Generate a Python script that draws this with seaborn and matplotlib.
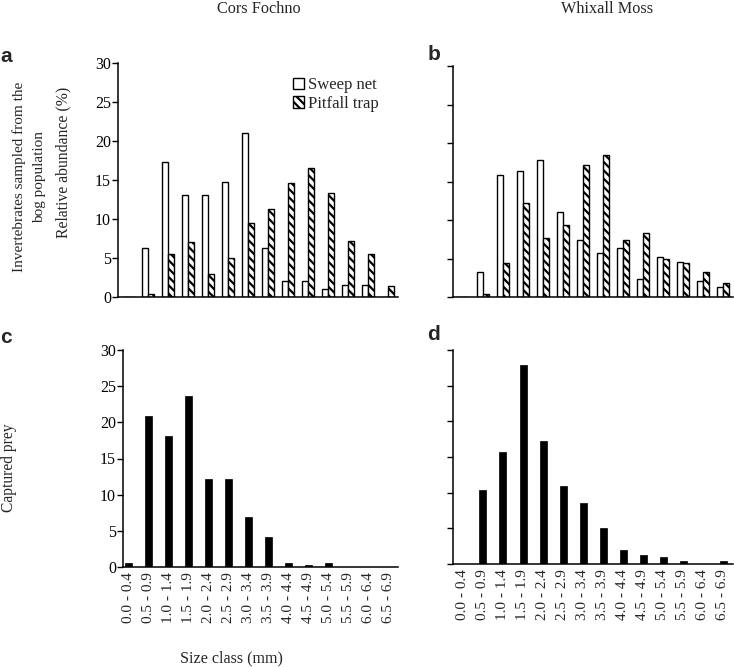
import numpy as np
import pandas as pd
import seaborn as sns
import matplotlib.pyplot as plt
from matplotlib.patches import Patch

# size classes (mm)
size_classes = ["0.0 - 0.4", "0.5 - 0.9", "1.0 - 1.4", "1.5 - 1.9", "2.0 - 2.4",
                "2.5 - 2.9", "3.0 - 3.4", "3.5 - 3.9", "4.0 - 4.4", "4.5 - 4.9",
                "5.0 - 5.4", "5.5 - 5.9", "6.0 - 6.4", "6.5 - 6.9"]
methods = ["Sweep net", "Pitfall trap"]

# Cors Fochno - bog population (%)
cf_sweep = [0, 6.3, 17.3, 13.1, 13.1, 14.7, 21.0, 6.3, 2.1, 2.1, 1.0, 1.6, 1.6, 0]
cf_pitfall = [0, 0.4, 5.5, 7.1, 3.0, 5.0, 9.5, 11.3, 14.6, 16.5, 13.3, 7.2, 5.5, 1.4]
# Whixall Moss - bog population (%)
wm_sweep = [0, 3.2, 15.9, 16.4, 17.8, 11.0, 7.4, 5.7, 6.3, 2.4, 5.2, 4.6, 2.1, 1.3]
wm_pitfall = [0, 0.35, 4.4, 12.2, 7.6, 9.4, 17.1, 18.4, 7.4, 8.3, 5.0, 4.4, 3.2, 1.8]
# captured prey (%)
cf_prey = [0.55, 20.9, 18.1, 23.6, 12.2, 12.2, 6.9, 4.2, 0.55, 0.3, 0.55, 0, 0, 0]
wm_prey = [0, 10.4, 15.7, 27.9, 17.3, 11.0, 8.6, 5.0, 2.0, 1.3, 1.0, 0.4, 0, 0.4]

sns.set_style("ticks")
plt.rcParams["font.family"] = ["Liberation Serif", "DejaVu Serif"]
plt.rcParams["hatch.linewidth"] = 1.6
plt.rcParams["axes.linewidth"] = 1.1

W, H = 734, 667
fig = plt.figure(figsize=(W / 100, H / 100), dpi=100)


def px_axes(left, right, top, bottom):
    return fig.add_axes([left / W, 1 - bottom / H, (right - left) / W, (bottom - top) / H])


def style(ax, labels, xlim):
    sns.despine(ax=ax)
    ax.set_ylim(0, 30)
    ax.set_yticks(range(0, 31, 5))
    ax.set_xlim(*xlim)
    ax.set_xlabel("")
    ax.set_ylabel("")
    ax.tick_params(axis="y", length=4, width=1.0, labelsize=11.5, pad=1, colors="black")
    ax.tick_params(axis="x", length=0, labelsize=11, pad=4)
    for s in ax.spines.values():
        s.set_color("black")
    if not labels:
        ax.set_yticklabels([])
    ax.set_facecolor("white")


def bog_panel(ax, sweep, pitfall, labels):
    df = pd.DataFrame({
        "size": size_classes * 2,
        "value": sweep + pitfall,
        "method": [methods[0]] * len(size_classes) + [methods[1]] * len(size_classes),
    })
    sns.barplot(data=df, x="size", y="value", hue="method", order=size_classes,
                hue_order=methods, palette=["white", "white"], width=0.62,
                edgecolor="black", linewidth=1.0, legend=False, ax=ax)
    for bar in ax.containers[1]:
        bar.set_hatch("\\\\\\\\")
    style(ax, labels, (-0.5, 13.5))
    ax.set_xticklabels([])


def prey_panel(ax, values, labels, xlim):
    sns.barplot(x=size_classes, y=values, color="black", width=0.35,
                edgecolor="black", linewidth=0.5, ax=ax)
    style(ax, labels, xlim)
    ax.set_xticks(range(len(size_classes)))
    ax.set_xticklabels(size_classes, rotation=90)


ax_a = px_axes(118, 398, 63, 297)
bog_panel(ax_a, cf_sweep, cf_pitfall, True)
ax_b = px_axes(453, 733, 66, 297)
bog_panel(ax_b, wm_sweep, wm_pitfall, False)
ax_c = px_axes(123, 398, 350, 567)
prey_panel(ax_c, cf_prey, True, (-0.25, 13.5))
ax_d = px_axes(453, 733, 350, 564)
prey_panel(ax_d, wm_prey, False, (-0.5, 13.5))

# legend
handles = [Patch(facecolor="white", edgecolor="black", linewidth=1.0, label=methods[0]),
           Patch(facecolor="white", edgecolor="black", linewidth=1.0, hatch="\\\\\\\\", label=methods[1])]
ax_a.legend(handles=handles, loc="upper left", bbox_to_anchor=(285 / W, 1 - 69 / H),
            bbox_transform=fig.transFigure, frameon=False, fontsize=12,
            handlelength=0.65, handleheight=0.65, handletextpad=0.2, labelspacing=0.15,
            borderpad=0)

# titles and labels
fig.text(259 / W, 1 - 9 / H, "Cors Fochno", ha="center", va="center", fontsize=11.7)
fig.text(607 / W, 1 - 9 / H, "Whixall Moss", ha="center", va="center", fontsize=11.7)
fig.text(29 / W, 1 - 177 / H, "Invertebrates sampled from the\nbog population",
         rotation=90, ha="center", va="center", multialignment="center",
         fontsize=11, linespacing=1.75)
fig.text(63 / W, 1 - 162 / H, "Relative abundance (%)", rotation=90,
         ha="center", va="center", fontsize=11.3)
fig.text(9 / W, 1 - 468 / H, "Captured prey", rotation=90,
         ha="center", va="center", fontsize=11.2)
fig.text(231 / W, 1 - 658 / H, "Size class (mm)", ha="center", va="center", fontsize=11.6)

for letter, x, y in [("a", 6, 56), ("b", 434, 55), ("c", 6, 337), ("d", 434, 335)]:
    fig.text(x / W, 1 - y / H, letter, ha="center", va="center", fontsize=15,
             fontweight="bold", family=["Liberation Sans", "DejaVu Sans"])

fig.savefig("out.png", dpi=100, facecolor="white")
